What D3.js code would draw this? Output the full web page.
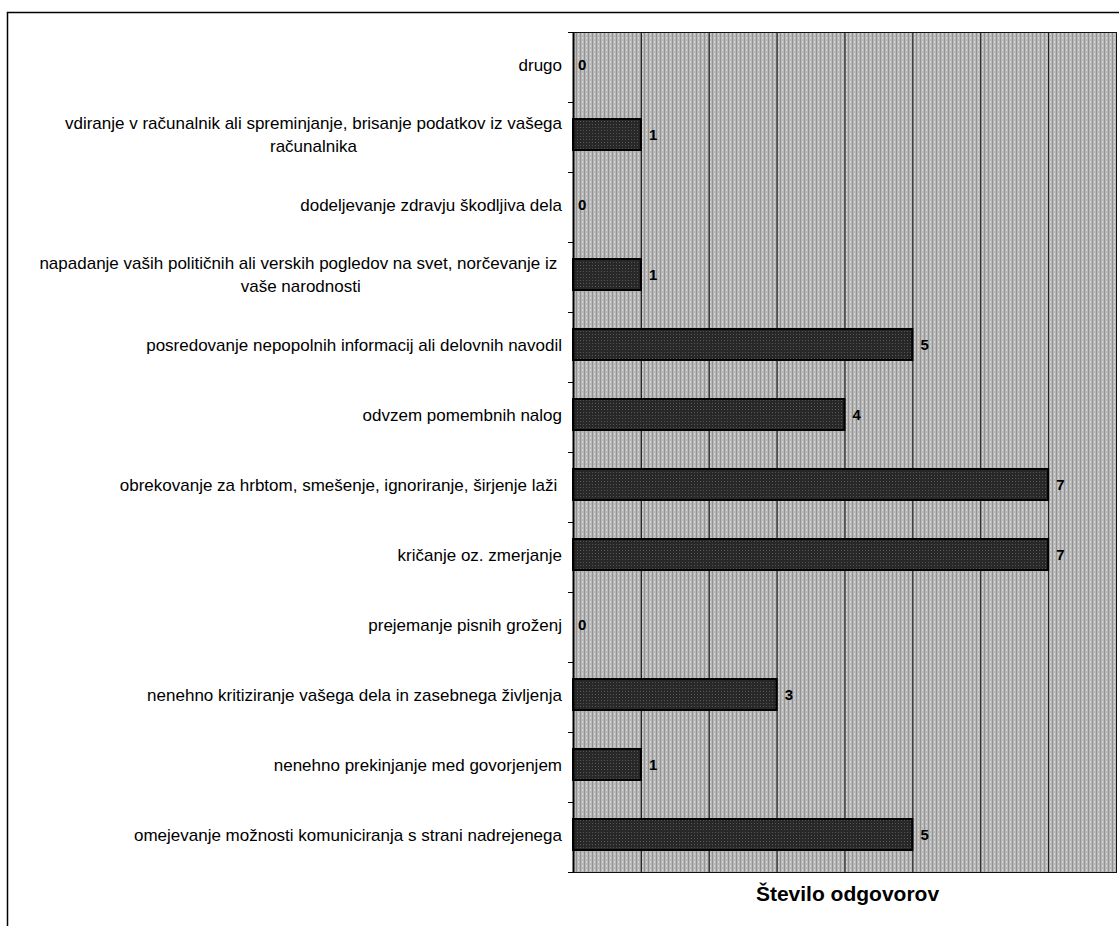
<!DOCTYPE html>
<html>
<head>
<meta charset="utf-8">
<script src="https://cdn.jsdelivr.net/npm/d3@7"></script>
<style>
  body { margin: 0; background: #fff; }
  svg { display: block; font-family: "Liberation Sans", Arial, sans-serif; }
</style>
</head>
<body>
<svg id="chart" width="1119" height="926"></svg>
<script>
// categories from top to bottom, each one is a list of text lines
const categories = [
  ["drugo"],
  ["vdiranje v računalnik ali spreminjanje, brisanje podatkov iz vašega", "računalnika"],
  ["dodeljevanje zdravju škodljiva dela"],
  ["napadanje vaših političnih ali verskih pogledov na svet, norčevanje iz ", "vaše narodnosti"],
  ["posredovanje nepopolnih informacij ali delovnih navodil"],
  ["odvzem pomembnih nalog"],
  ["obrekovanje za hrbtom, smešenje, ignoriranje, širjenje laži "],
  ["kričanje oz. zmerjanje"],
  ["prejemanje pisnih groženj"],
  ["nenehno kritiziranje vašega dela in zasebnega življenja"],
  ["nenehno prekinjanje med govorjenjem"],
  ["omejevanje možnosti komuniciranja s strani nadrejenega"]
];
const values = [0, 1, 0, 1, 5, 4, 7, 7, 0, 3, 1, 5];
const xTicks = [0, 1, 2, 3, 4, 5, 6, 7, 8];
const axisTitle = "Število odgovorov";

const svg = d3.select("#chart");

// plot area
const dims = { left: 573, right: 1116, top: 32, bottom: 872 };

// outer frame, right and bottom sides run off the picture
svg.append("rect")
  .attr("x", 7.5).attr("y", 12.5)
  .attr("width", 1130).attr("height", 940)
  .attr("fill", "none").attr("stroke", "#000").attr("stroke-width", 1.5);

// halftone like gray texture for the plot background
const defs = svg.append("defs");
const pat = defs.append("pattern")
  .attr("id", "stipple").attr("patternUnits", "userSpaceOnUse")
  .attr("width", 4).attr("height", 4);
pat.append("rect").attr("width", 4).attr("height", 4).attr("fill", "#b8b8b8");
pat.append("rect").attr("x", 0).attr("y", 0).attr("width", 1).attr("height", 4).attr("fill", "#939393");
pat.append("rect").attr("x", 2).attr("y", 1).attr("width", 1).attr("height", 2).attr("fill", "#d4d4d4");

const barPat = defs.append("pattern")
  .attr("id", "barfill").attr("patternUnits", "userSpaceOnUse")
  .attr("width", 3).attr("height", 3);
barPat.append("rect").attr("width", 3).attr("height", 3).attr("fill", "#282828");
barPat.append("rect").attr("x", 1).attr("y", 1).attr("width", 1).attr("height", 1).attr("fill", "#555");

const xScale = d3.scaleLinear()
  .domain([0, 8])
  .range([dims.left, dims.right]);

const yScale = d3.scaleBand()
  .domain(d3.range(categories.length))
  .range([dims.top, dims.bottom])
  .padding(0);

// pair every value with its row so zero rows can be skipped for bars
const rows = values.map((v, i) => ({ i: i, v: v }));

svg.append("rect")
  .attr("x", dims.left).attr("y", dims.top)
  .attr("width", dims.right - dims.left).attr("height", dims.bottom - dims.top)
  .attr("fill", "url(#stipple)");

// vertical gridlines
svg.append("g")
  .selectAll("line")
  .data(xTicks.slice(1))
  .join("line")
  .attr("x1", d => xScale(d) + 0.5).attr("x2", d => xScale(d) + 0.5)
  .attr("y1", dims.top).attr("y2", dims.bottom)
  .attr("stroke", "#111").attr("stroke-width", 1);

// plot border
svg.append("rect")
  .attr("x", dims.left + 0.5).attr("y", dims.top + 0.5)
  .attr("width", dims.right - dims.left).attr("height", dims.bottom - dims.top)
  .attr("fill", "none").attr("stroke", "#111").attr("stroke-width", 1);

// bars
const barOffset = 17, barHeight = 31;
svg.append("g")
  .selectAll("rect")
  .data(rows.filter(d => d.v > 0))
  .join("rect")
  .attr("x", xScale(0))
  .attr("y", d => yScale(d.i) + barOffset)
  .attr("width", d => xScale(d.v) - xScale(0))
  .attr("height", barHeight)
  .attr("fill", "url(#barfill)")
  .attr("stroke", "#000").attr("stroke-width", 2);

// value labels
svg.append("g")
  .selectAll("text")
  .data(rows)
  .join("text")
  .attr("x", d => xScale(d.v) + (d.v > 0 ? 8 : 5))
  .attr("y", d => yScale(d.i) + barOffset + barHeight / 2)
  .attr("dy", "0.36em")
  .attr("font-size", 15).attr("font-weight", "bold")
  .text(d => d.v);

// left axis, ticks at band edges
const yAxis = svg.append("g");
yAxis.append("line")
  .attr("x1", dims.left + 0.5).attr("x2", dims.left + 0.5)
  .attr("y1", dims.top).attr("y2", dims.bottom)
  .attr("stroke", "#000").attr("stroke-width", 2);
yAxis.selectAll(".tick")
  .data(d3.range(categories.length + 1))
  .join("line")
  .attr("x1", dims.left - 5).attr("x2", dims.left)
  .attr("y1", d => d < categories.length ? yScale(d) + 0.5 : dims.bottom + 0.5)
  .attr("y2", d => d < categories.length ? yScale(d) + 0.5 : dims.bottom + 0.5)
  .attr("stroke", "#000");

// category labels, wrapped lines are centred on each other like excel does
const labelRight = 562, lineGap = 23;
const labels = svg.append("g").attr("font-size", 17);
categories.forEach(function(lines, i) {
  const cy = yScale(i) + barOffset + barHeight / 2;
  const t = labels.append("text")
    .attr("text-anchor", "middle")
    .attr("xml:space", "preserve");
  const spans = lines.map((line, k) => t.append("tspan")
    .attr("y", cy + (k - (lines.length - 1) / 2) * lineGap)
    .attr("dy", "0.36em")
    .text(line));
  const w = d3.max(spans, s => s.node().getComputedTextLength());
  spans.forEach(s => s.attr("x", labelRight - w / 2));
});

// x axis title
svg.append("text")
  .attr("x", (dims.left + dims.right) / 2 + 3)
  .attr("y", 893)
  .attr("dy", "0.36em")
  .attr("text-anchor", "middle")
  .attr("font-size", 21).attr("font-weight", "bold")
  .text(axisTitle);
</script>
</body>
</html>
